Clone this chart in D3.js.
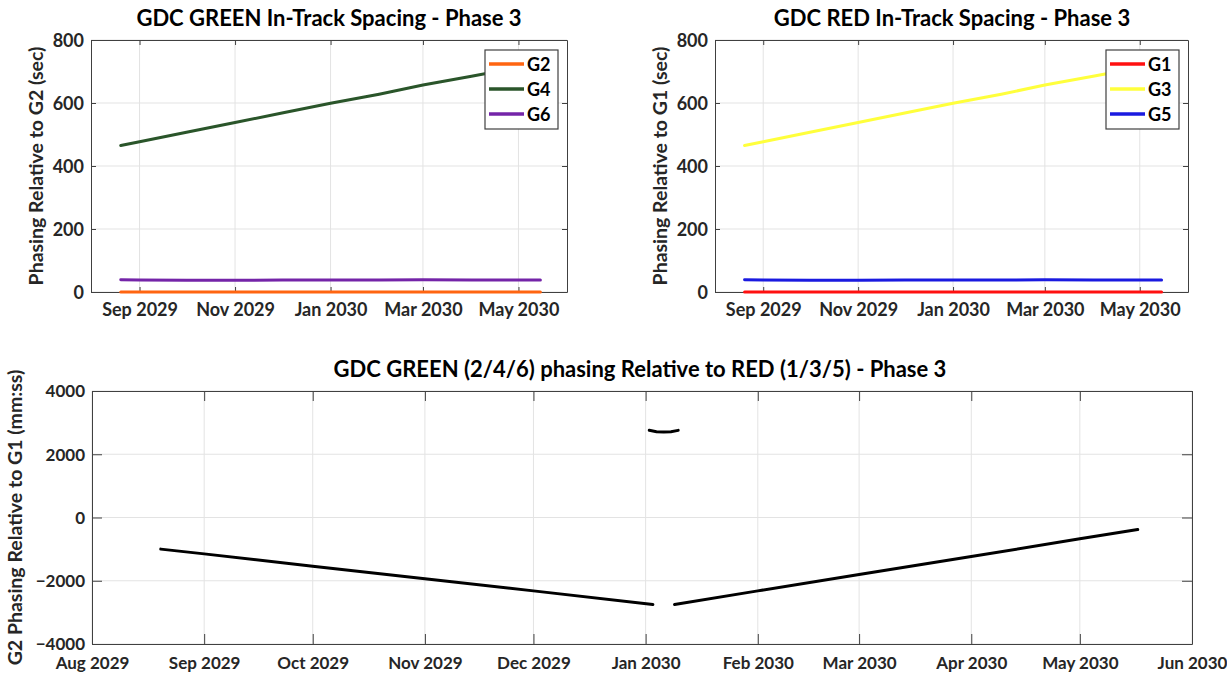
<!DOCTYPE html>
<html>
<head>
<meta charset="utf-8">
<script src="https://cdn.jsdelivr.net/npm/d3@7"></script>
<style>
  html, body { margin: 0; padding: 0; background: #fff; }
  svg { display: block; font-family: Lato, "Open Sans", sans-serif; font-weight: bold; }
</style>
</head>
<body>
<svg id="chart" width="1227" height="677"></svg>
<script>
//

const parse = d3.timeParse('%Y-%m-%d')

// top panels, sampled along the run
const phaseDates = ['2029-08-20', '2029-09-01', '2029-10-01', '2029-11-01', '2029-12-01',
  '2030-01-01', '2030-02-01', '2030-03-01', '2030-04-01', '2030-05-01', '2030-05-15']
const greenG2 = [0, 0, 0, 0, 0, 0, 0, 0, 0, 0, 0]
const greenG4 = [465, 477, 507, 538, 568, 599, 628, 657, 685, 713, 726]
const greenG6 = [39, 38, 37, 37, 38, 38, 38, 39, 38, 38, 38]
const redG1 = [0, 0, 0, 0, 0, 0, 0, 0, 0, 0, 0]
const redG3 = [465, 477, 507, 538, 568, 599, 628, 657, 685, 713, 726]
const redG5 = [39, 38, 37, 37, 38, 38, 38, 39, 38, 38, 38]

// bottom panel, three separate pieces
const driftDatesA = ['2029-08-20', '2029-09-01', '2029-10-01', '2029-11-01', '2029-12-01', '2030-01-03']
const driftValuesA = [-1000, -1150, -1545, -1940, -2320, -2750]
const driftDatesB = ['2030-01-02', '2030-01-04', '2030-01-06', '2030-01-08', '2030-01-10']
const driftValuesB = [2760, 2715, 2700, 2715, 2755]
const driftDatesC = ['2030-01-09', '2030-02-01', '2030-03-01', '2030-04-01', '2030-05-01', '2030-05-17']
const driftValuesC = [-2750, -2320, -1800, -1235, -675, -380]

const topTicks = ['2029-09-01', '2029-11-01', '2030-01-01', '2030-03-01', '2030-05-01']
const bottomTicks = ['2029-08-01', '2029-09-01', '2029-10-01', '2029-11-01', '2029-12-01',
  '2030-01-01', '2030-02-01', '2030-03-01', '2030-04-01', '2030-05-01', '2030-06-01']
const topYTicks = [0, 200, 400, 600, 800]
const bottomYTicks = [-4000, -2000, 0, 2000, 4000]
const xRange = ['2029-08-01', '2030-06-01']

//

const svg = d3.select('#chart')
const fmt = d3.timeFormat('%b %Y')

function toPoints (dates, values) {
  return dates.map((d, i) => ({ date: parse(d), value: values[i] }))
}

function panel (opts) {
  const x = d3.scaleTime()
    .domain(xRange.map(parse))
    .range([opts.left, opts.right])
  const y = d3.scaleLinear()
    .domain(opts.yDomain)
    .range([opts.bottom, opts.top])

  const g = svg.append('g')
  const xt = opts.xTicks.map(parse)

  // grid
  g.append('g').selectAll('line')
    .data(xt)
    .join('line')
    .attr('x1', (d) => x(d)).attr('x2', (d) => x(d))
    .attr('y1', opts.top).attr('y2', opts.bottom)
    .attr('stroke', '#e3e3e3')
  g.append('g').selectAll('line')
    .data(opts.yTicks)
    .join('line')
    .attr('y1', (d) => y(d)).attr('y2', (d) => y(d))
    .attr('x1', opts.left).attr('x2', opts.right)
    .attr('stroke', '#e3e3e3')

  // axes (matlab style, ticks inward on all four sides)
  const tl = opts.tickLen
  const axB = g.append('g').attr('transform', `translate(0,${opts.bottom})`)
    .call(d3.axisBottom(x).tickValues(xt).tickFormat(fmt).tickSizeInner(-tl).tickSizeOuter(0).tickPadding(opts.xPad))
  const axT = g.append('g').attr('transform', `translate(0,${opts.top})`)
    .call(d3.axisTop(x).tickValues(xt).tickFormat('').tickSizeInner(-tl).tickSizeOuter(0))
  const axL = g.append('g').attr('transform', `translate(${opts.left},0)`)
    .call(d3.axisLeft(y).tickValues(opts.yTicks).tickFormat(d3.format('d')).tickSizeInner(-tl).tickSizeOuter(0).tickPadding(7))
  const axR = g.append('g').attr('transform', `translate(${opts.right},0)`)
    .call(d3.axisRight(y).tickValues(opts.yTicks).tickFormat('').tickSizeInner(-tl).tickSizeOuter(0))
  ;[axB, axT, axL, axR].forEach((a) => {
    a.select('.domain').attr('stroke', '#404040')
    a.selectAll('.tick line').attr('stroke', '#404040')
    a.selectAll('text').attr('fill', '#262626').style('font-size', opts.tickFont).style('font-weight', 'bold')
      .style('font-family', 'Lato, sans-serif')
  })
  axL.selectAll('text').attr('dy', '0.34em')

  // series
  const line = d3.line().x((d) => x(d.date)).y((d) => y(d.value))
  opts.series.forEach((s) => {
    g.append('path')
      .datum(s.points)
      .attr('d', line)
      .attr('fill', 'none')
      .attr('stroke', s.color)
      .attr('stroke-width', s.width || 3)
      .attr('stroke-linecap', 'round')
  })

  // title and y label
  svg.append('text')
    .attr('x', opts.titleX).attr('y', opts.top - 14)
    .attr('text-anchor', 'middle')
    .style('font-size', '22px')
    .text(opts.title)
  svg.append('text')
    .attr('transform', `translate(${opts.ylabelX},${(opts.top + opts.bottom) / 2}) rotate(-90)`)
    .attr('text-anchor', 'middle')
    .attr('fill', '#262626')
    .style('font-size', '19.5px')
    .text(opts.ylabel)

  // legend
  if (opts.legend) {
    const lw = 73
    const lh = 79
    const lx = opts.right - 9 - lw
    const ly = opts.top + 10
    const lg = svg.append('g').attr('transform', `translate(${lx},${ly})`)
    lg.append('rect').attr('width', lw).attr('height', lh)
      .attr('fill', '#fff').attr('stroke', '#404040').attr('stroke-width', 1.2)
    opts.series.slice().reverse().forEach((s, i) => {
      const row = lg.append('g').attr('transform', `translate(0,${14 + i * 25})`)
      row.append('line').attr('x1', 4).attr('x2', 39)
        .attr('stroke', s.color).attr('stroke-width', 3.5)
      row.append('text').attr('x', 42).attr('y', 7)
        .style('font-size', '18px').text(s.name)
    })
  }
}

panel({
  left: 91, right: 567, top: 40, bottom: 292,
  yDomain: [0, 800], yTicks: topYTicks, xTicks: topTicks, tickLen: 5, tickFont: '18px', xPad: 11,
  title: 'GDC GREEN In-Track Spacing - Phase 3', titleX: 329,
  ylabel: 'Phasing Relative to G2 (sec)', ylabelX: 43,
  legend: true,
  // drawn back to front, legend lists them front to back
  series: [
    { name: 'G6', color: '#7424a8', points: toPoints(phaseDates, greenG6) },
    { name: 'G4', color: '#2a552a', points: toPoints(phaseDates, greenG4) },
    { name: 'G2', color: '#ff6511', points: toPoints(phaseDates, greenG2) }
  ]
})

panel({
  left: 715, right: 1188, top: 40, bottom: 292,
  yDomain: [0, 800], yTicks: topYTicks, xTicks: topTicks, tickLen: 5, tickFont: '18px', xPad: 11,
  title: 'GDC RED In-Track Spacing - Phase 3', titleX: 952,
  ylabel: 'Phasing Relative to G1 (sec)', ylabelX: 667,
  legend: true,
  series: [
    { name: 'G5', color: '#1a1ae0', points: toPoints(phaseDates, redG5) },
    { name: 'G3', color: '#ffff3c', points: toPoints(phaseDates, redG3) },
    { name: 'G1', color: '#ff1010', points: toPoints(phaseDates, redG1) }
  ]
})

panel({
  left: 92, right: 1192, top: 391, bottom: 644,
  yDomain: [-4000, 4000], yTicks: bottomYTicks, xTicks: bottomTicks, tickLen: 10, tickFont: '17px', xPad: 13,
  title: 'GDC GREEN (2/4/6) phasing Relative to RED (1/3/5) - Phase 3', titleX: 640,
  ylabel: 'G2 Phasing Relative to G1 (mm:ss)', ylabelX: 22,
  legend: false,
  series: [
    { name: 'a', color: '#000', points: toPoints(driftDatesA, driftValuesA) },
    { name: 'b', color: '#000', points: toPoints(driftDatesB, driftValuesB) },
    { name: 'c', color: '#000', points: toPoints(driftDatesC, driftValuesC) }
  ]
})
</script>
</body>
</html>
